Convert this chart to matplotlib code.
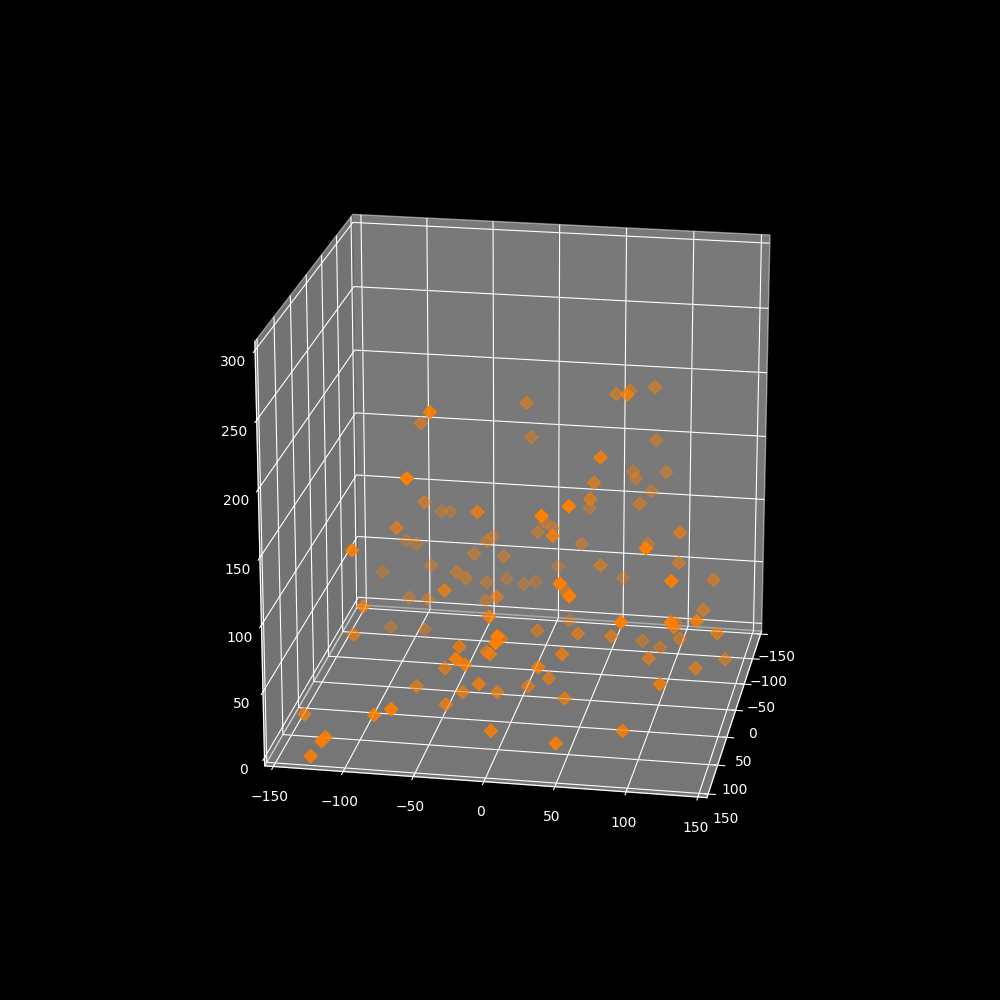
import matplotlib
matplotlib.use('Agg')
import matplotlib.pyplot as plt
import numpy as np

# values
x = [62,-93,120,-74,-148,-148,1,-25,-141,-141,-112,-148,-107,-110,85,-118,-129,-100,-99,-144,-112,-144,-126,-47,-148,-132,-148,12,-148,-147,-148,-61,-146,-56,-148,-101,107,113,-124,-124,-121,37,-123,-59,-132,108,-148,-81,-91,-107,24,-89,-121,-116,-20,38,-95,-95,7,64,146,148,-50,36,-6,34,117,78,4,15,20,62,16,47,148,121,80,91,118,148,148,-145,-147,126,-70,128,-148,72,-92,-83,-122,108,122,-116,4,39,-39,-73,-56,-21,-25,-101,-90,-24,25,-73,-28,50,-7,1,59,19,75,105]
y = [-55,-93,-60,-87,-89,-82,-33,-98,-115,-107,-47,-49,-56,-34,-107,-91,-131,-68,-61,-38,-17,-19,48,68,55,76,75,58,58,60,83,42,72,40,25,70,51,33,-5,1,-10,28,23,106,72,105,1,44,101,-106,-53,-88,-49,-49,-23,-110,-118,-92,-124,-13,8,7,-25,-40,-28,-18,-27,-28,-57,-76,-41,-21,-16,-48,-67,-85,-145,-7,-121,-117,-125,-25,-16,48,20,55,51,118,127,121,14,88,125,96,111,132,137,105,1,37,61,73,88,89,33,139,123,20,18,4,109,34,85,42]
z = [230,167,201,112,78,78,135,109,55,53,70,60,61,59,132,45,33,48,44,28,181,143,187,214,183,192,145,186,119,114,120,140,105,129,88,111,183,177,83,79,76,134,68,106,68,156,39,68,70,22,82,29,33,20,62,71,2,2,36,80,99,95,17,44,24,39,68,48,13,2,2,27,2,3,40,23,2,4,2,12,0,24,26,133,50,125,33,119,58,37,6,100,108,12,57,77,37,17,23,37,35,2,2,20,39,3,13,38,6,2,35,2,4,4]

xy_ticks = [-150, -100, -50, 0, 50, 100, 150]
z_ticks = [0, 50, 100, 150, 200, 250, 300]

plt.style.use('dark_background')
fig = plt.figure(figsize=(10, 10), dpi=100)
ax = fig.add_subplot(111, projection='3d')

ax.scatter(x, y, z, c='#ff7f00', marker='D', s=45)

ax.set_xlim(-156.25, 156.25)
ax.set_ylim(-156.25, 156.25)
ax.set_zlim(-6.25, 306.25)
ax.set_xticks(xy_ticks)
ax.set_yticks(xy_ticks)
ax.set_zticks(z_ticks)
ax.set_box_aspect((1, 1, 1), zoom=0.952)
ax.view_init(elev=20, azim=10)

fig.savefig('out.png', dpi=100)
